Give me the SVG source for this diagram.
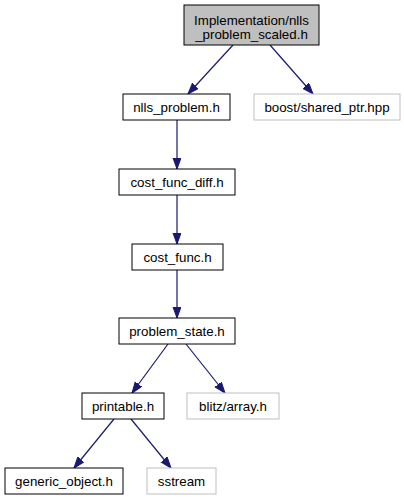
<svg xmlns="http://www.w3.org/2000/svg" width="404" height="500" viewBox="0 0 404 500">
<style>
  .box { fill: #ffffff; stroke: #000000; stroke-width: 1; }
  .ext { fill: #ffffff; stroke: #bfbfbf; stroke-width: 1; }
  .root { fill: #bfbfbf; stroke: #000000; stroke-width: 1; }
  text { font-family: "Liberation Sans", Arial, Helvetica, sans-serif; font-size: 13.33px; fill: #000000; text-anchor: middle; }
  .edge { fill: none; stroke: #191970; stroke-width: 1.2; }
</style>
<defs>
  <marker id="arrow" markerUnits="userSpaceOnUse" markerWidth="13" markerHeight="10" refX="11" refY="4" orient="auto">
    <path d="M0,0 L11,4 L0,8 z" fill="#191970" stroke="#191970" stroke-width="1"/>
  </marker>
</defs>
<rect width="404" height="500" fill="#ffffff"/>
<g id="edges">
  <path class="edge" d="M233,45 L188,94" marker-end="url(#arrow)"/>
  <path class="edge" d="M270,45 L313,94" marker-end="url(#arrow)"/>
  <path class="edge" d="M177,120 L177,169" marker-end="url(#arrow)"/>
  <path class="edge" d="M177,195 L177,244" marker-end="url(#arrow)"/>
  <path class="edge" d="M177,270 L177,318" marker-end="url(#arrow)"/>
  <path class="edge" d="M168,344 L132,393" marker-end="url(#arrow)"/>
  <path class="edge" d="M186,344 L225,393" marker-end="url(#arrow)"/>
  <path class="edge" d="M114,419 L74,468" marker-end="url(#arrow)"/>
  <path class="edge" d="M131,419 L171,468" marker-end="url(#arrow)"/>
</g>
<g id="node_root">
  <rect class="root" x="184" y="5" width="135" height="40"/>
  <text x="251.5" y="24.5">Implementation/nlls</text>
  <text x="251.5" y="38.5">_problem_scaled.h</text>
</g>
<g id="node_nlls_problem">
  <rect class="box" x="123" y="94" width="107" height="26"/>
  <text x="176.5" y="112">nlls_problem.h</text>
</g>
<g id="node_boost_shared_ptr">
  <rect class="ext" x="254" y="94" width="146" height="26"/>
  <text x="327" y="112">boost/shared_ptr.hpp</text>
</g>
<g id="node_cost_func_diff">
  <rect class="box" x="119" y="169" width="116" height="26"/>
  <text x="177" y="187">cost_func_diff.h</text>
</g>
<g id="node_cost_func">
  <rect class="box" x="132" y="244" width="91" height="26"/>
  <text x="177.5" y="262">cost_func.h</text>
</g>
<g id="node_problem_state">
  <rect class="box" x="119" y="318" width="116" height="26"/>
  <text x="177" y="336">problem_state.h</text>
</g>
<g id="node_printable">
  <rect class="box" x="82" y="393" width="82" height="26"/>
  <text x="123" y="411">printable.h</text>
</g>
<g id="node_blitz_array">
  <rect class="ext" x="187" y="393" width="92" height="26"/>
  <text x="233" y="411">blitz/array.h</text>
</g>
<g id="node_generic_object">
  <rect class="box" x="5" y="468" width="118" height="26"/>
  <text x="64" y="486">generic_object.h</text>
</g>
<g id="node_sstream">
  <rect class="ext" x="147" y="468" width="69" height="26"/>
  <text x="181.5" y="486">sstream</text>
</g>
</svg>
